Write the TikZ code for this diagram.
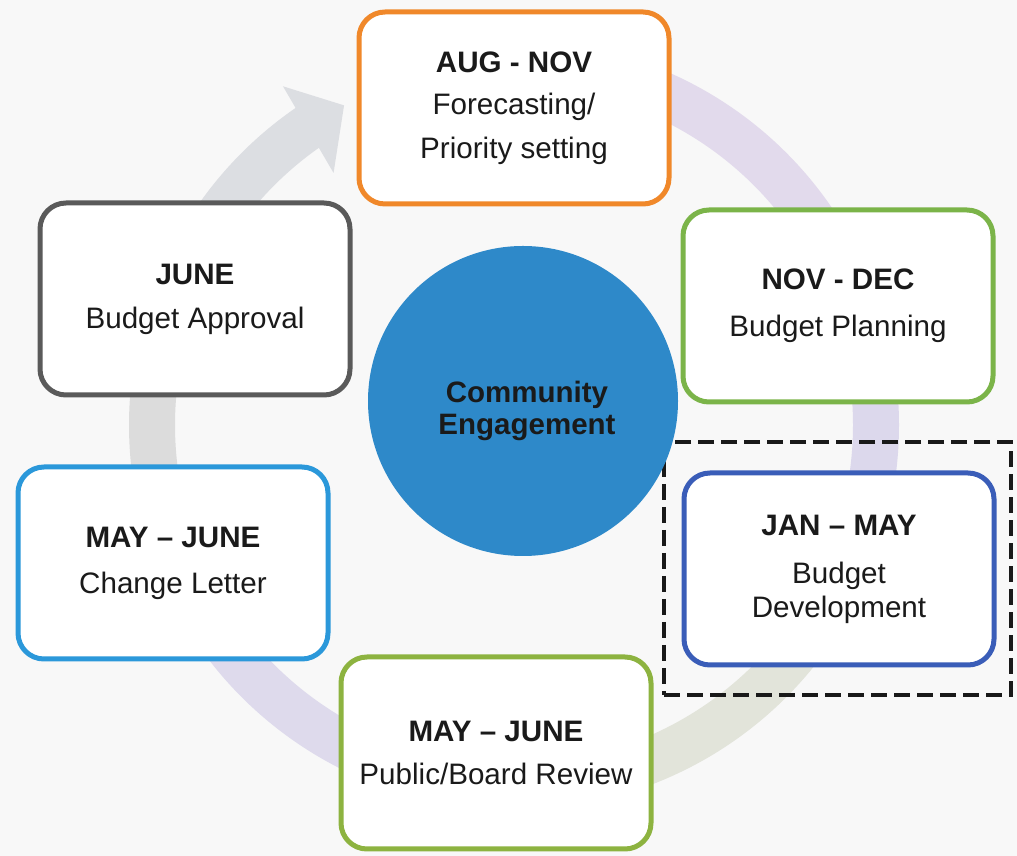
\documentclass[tikz,border=0pt]{standalone}
\usepackage{fontspec}
\setmainfont{Liberation Sans}
\definecolor{bgcol}{RGB}{248,248,248}
\definecolor{corange}{HTML}{F0882A}
\definecolor{cgray}{HTML}{5A5A5A}
\definecolor{cgreenA}{HTML}{7BB449}
\definecolor{cgreenB}{HTML}{8DB340}
\definecolor{cblue}{HTML}{2B98DA}
\definecolor{cdblue}{HTML}{3A5DB8}
\definecolor{ccircle}{HTML}{2E89C9}
\definecolor{ctext}{HTML}{1A1A1A}
\definecolor{ringA}{RGB}{226,218,236}
\definecolor{ringB}{RGB}{220,216,236}
\definecolor{ringC}{RGB}{226,228,218}
\definecolor{ringD}{RGB}{222,218,236}
\definecolor{ringE}{RGB}{220,220,220}
\definecolor{ringF}{RGB}{220,222,226}
\begin{document}
\begin{tikzpicture}[x=1pt,y=1pt,
  stage/.style={draw, line width=5pt, rounded corners=26pt, fill=white,
    minimum width=310pt, minimum height=192pt, align=center, inner sep=0pt,
    text=ctext, font=\fontsize{29.6}{44}\selectfont},
  ringseg/.style={line width=46pt},
]
\fill[bgcol] (0,0) rectangle (1017,856);
\useasboundingbox (0,0) rectangle (1017,856);
% faint cycle ring
\begin{scope}[shift={(514,431)}]
  \foreach \a/\b/\c in {100/28/ringA, 30/-32/ringB, -30/-92/ringC, -90/-152/ringD, -150/-202/ringE, -200/-235.5/ringF}
    \draw[ringseg, color=\c] (\a:362) arc[start angle=\a, end angle=\b, radius=362];
  \fill[ringF] (125.6:310) -- (118:362) -- (124.3:410) -- cycle;
\end{scope}
% focus frame
\node[draw=black!90, line width=3.5pt, dash pattern=on 16pt off 7pt,
  minimum width=347pt, minimum height=253pt, inner sep=0pt] (focus) at (837.5,287.5) {};
% centre circle
\node[circle, fill=ccircle, minimum size=310pt, inner sep=0pt] (ce) at (523,455) {};
\node[align=center, text=ctext, font=\bfseries\fontsize{29.5}{32}\selectfont] (cetxt)
  at ([xshift=4pt,yshift=-10pt]ce.center) {Community\\Engagement};
% stages
\node[stage, draw=corange] (aug) at (514,748) {\textbf{AUG - NOV}\\[-2pt]Forecasting/\\Priority setting};
\node[stage, draw=cgray] (june) at (195,557) {\textbf{JUNE}\\Budget Approval};
\node[stage, draw=cgreenA] (nov) at (838,550) {\textbf{NOV - DEC}\\[3pt]Budget Planning};
\node[stage, draw=cdblue, font=\fontsize{29.6}{34}\selectfont] (jan) at (839,287) {\textbf{JAN – MAY}\\[14pt]Budget\\Development};
\node[stage, draw=cblue] (chg) at (173,293) {\textbf{MAY – JUNE}\\[2pt]Change Letter};
\node[stage, draw=cgreenB] (pub) at (496,103) {\textbf{MAY – JUNE}\\[-1pt]Public/Board Review};
\end{tikzpicture}
\end{document}
